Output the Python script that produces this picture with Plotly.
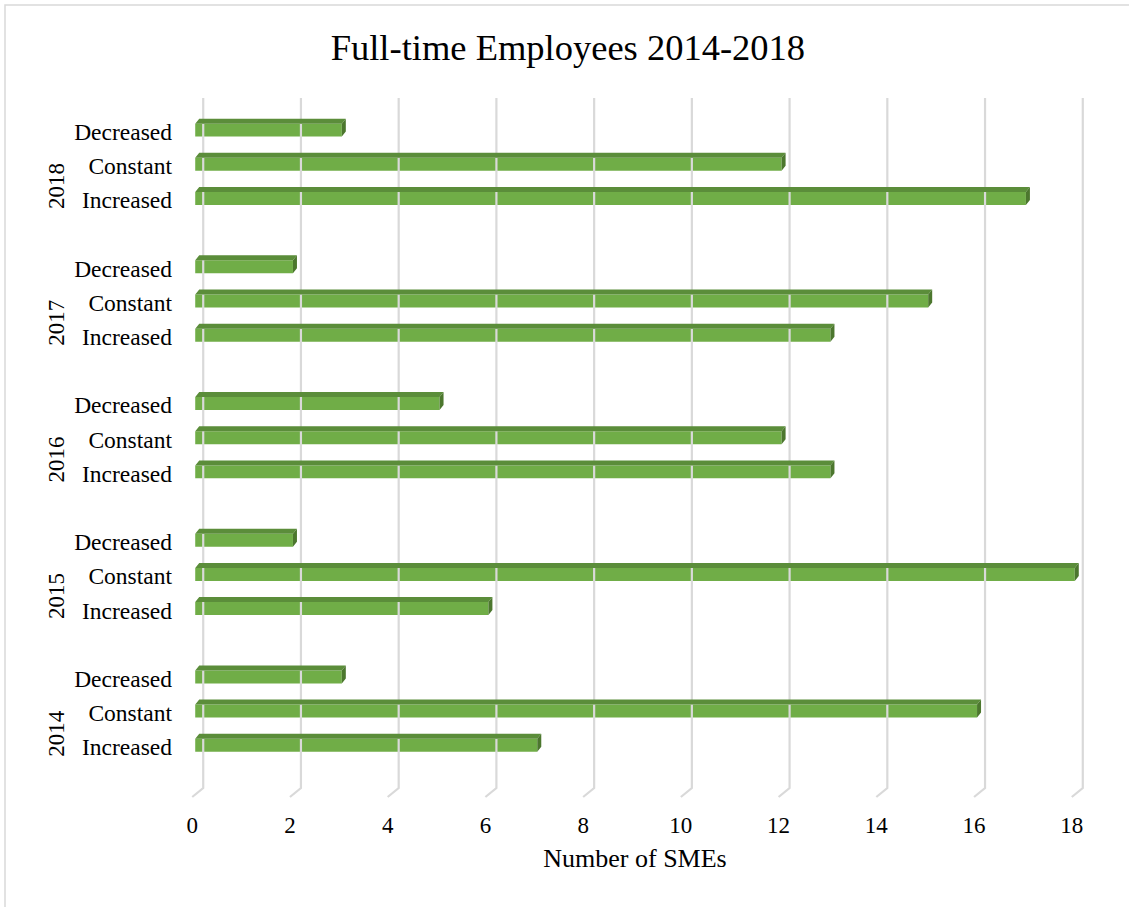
import plotly.graph_objects as go

# ---- data -------------------------------------------------------------
years = ["2014", "2015", "2016", "2017", "2018"]
changes = ["Increased", "Constant", "Decreased"]
increased = [7, 6, 13, 13, 17]
constant = [16, 18, 12, 15, 12]
decreased = [3, 2, 5, 2, 3]
x_ticks = list(range(0, 19, 2))

# ---- geometry / styling ----------------------------------------------
W, H = 1129, 907
M_L, M_R, M_T, M_B = 183, 42, 98, 105
X_RANGE = [-0.25, 18.25]
Y_RANGE = [-1.61, 18.99]
px_x = (W - M_L - M_R) / (X_RANGE[1] - X_RANGE[0])   # pixels per x unit
px_y = (H - M_T - M_B) / (Y_RANGE[1] - Y_RANGE[0])   # pixels per y slot

FRONT = "#70AD47"
TOP = "#5B8D3A"
SIDE = "#4C772E"
GRID = "#D9D9D9"
FONT = "Liberation Serif"

BAR_W = 0.38            # bar thickness in category slots
BAR_SHIFT = 0.05        # lift of the front face above the label line
DX = 4 / px_x           # 3-D depth, horizontal
DY = 5 / px_y           # 3-D depth, vertical

# slot positions: each year gets three rows plus one empty spacer row
series = [increased, constant, decreased]
pos, vals, labels = [], [], []
for g, yr in enumerate(years):
    for i, name in enumerate(changes):
        pos.append(4 * g + i)
        vals.append(series[i][g])
        labels.append(name)

fig = go.Figure()

# gridlines with the back-wall / floor kink of a 3-D chart
floor = Y_RANGE[0] + 5 / px_y
kink = floor + 9 / px_y
gx, gy = [], []
for v in x_ticks:
    back = v + 8 / px_x
    front = v - 3 / px_x
    gx += [back, back, front, None]
    gy += [Y_RANGE[1], kink, floor, None]
fig.add_trace(go.Scatter(x=gx, y=gy, mode="lines",
                         line=dict(color=GRID, width=2.2),
                         hoverinfo="skip", showlegend=False))

# front faces
fig.add_trace(go.Bar(
    y=pos, x=vals, orientation="h", width=BAR_W,
    offset=-BAR_W / 2 + BAR_SHIFT,
    marker=dict(color=FRONT, line=dict(width=0)),
    text=labels, hovertemplate="%{text}: %{x}<extra></extra>",
    textposition="none", showlegend=False,
))

# top and side faces
tx, ty, sx, sy = [], [], [], []
for p, v in zip(pos, vals):
    top = p + BAR_SHIFT + BAR_W / 2
    bot = p + BAR_SHIFT - BAR_W / 2
    tx += [0, v, v + DX, DX, 0, None]
    ty += [top, top, top + DY, top + DY, top, None]
    sx += [v, v + DX, v + DX, v, v, None]
    sy += [bot, bot + DY, top + DY, top, bot, None]
fig.add_trace(go.Scatter(x=tx, y=ty, mode="lines", fill="toself",
                         fillcolor=TOP, line=dict(width=0, color=TOP),
                         hoverinfo="skip", showlegend=False))
fig.add_trace(go.Scatter(x=sx, y=sy, mode="lines", fill="toself",
                         fillcolor=SIDE, line=dict(width=0, color=SIDE),
                         hoverinfo="skip", showlegend=False))

# year group labels
for g, yr in enumerate(years):
    fig.add_annotation(
        x=(42 - M_L) / (W - M_L - M_R), xref="paper",
        y=4 * g + 0.4, yref="y",
        text=yr, textangle=-90, showarrow=False,
        font=dict(family=FONT, size=23, color="black"),
    )

# outer chart border
fig.add_shape(type="rect", xref="paper", yref="paper",
              x0=(5 - M_L) / (W - M_L - M_R), x1=1.2,
              y0=-0.3, y1=(H - M_B - 5) / (H - M_T - M_B),
              line=dict(color=GRID, width=1.5), layer="below")

fig.update_layout(
    width=W, height=H,
    margin=dict(l=M_L, r=M_R, t=M_T, b=M_B),
    paper_bgcolor="white", plot_bgcolor="white",
    font=dict(family=FONT, size=23, color="black"),
    title=dict(text="Full-time Employees 2014-2018",
               x=0.503, xanchor="center", y=1 - 47 / H, yanchor="middle",
               font=dict(family=FONT, size=36.5, color="black")),
    xaxis=dict(range=X_RANGE, tickvals=x_ticks, showgrid=False,
               zeroline=False, showline=False, ticks="",
               ticklabelstandoff=7, ticklabelshift=-3,
               title=dict(text="Number of SMEs", standoff=11,
                          font=dict(family=FONT, size=26))),
    yaxis=dict(range=Y_RANGE, tickvals=pos, ticktext=labels,
               showgrid=False, zeroline=False, showline=False, ticks="",
               ticklabelstandoff=10, tickfont=dict(size=23.5)),
)

fig.write_html("out.html")
